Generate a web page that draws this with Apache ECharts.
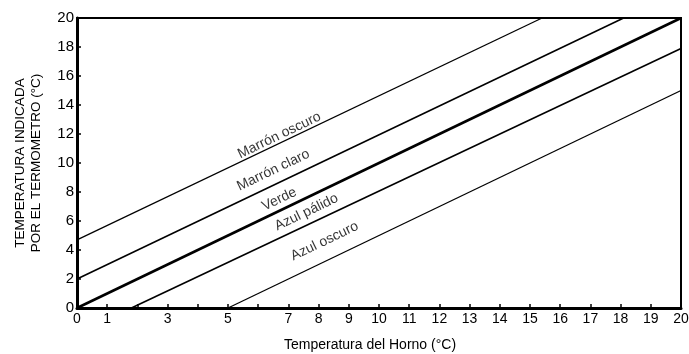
<!DOCTYPE html>
<html><head><meta charset="utf-8">
<script src="https://cdn.jsdelivr.net/npm/echarts@6/dist/echarts.min.js"></script>
<style>html,body{margin:0;padding:0;background:#fff}#c{width:689px;height:354px}</style>
</head><body><div id="c"></div>
<script>
const seriesNames = ['Marrón oscuro', 'Marrón claro', 'Verde', 'Azul pálido', 'Azul oscuro'];
const marronOscuro = [[0, 4.7], [15.4, 20]];
const marronClaro = [[0, 2.0], [18.1, 20]];
const verde = [[0, 0], [20, 20]];
const azulPalido = [[1.8, 0], [20, 17.9]];
const azulOscuro = [[5, 0], [20, 15]];
const labelPositions = [[6.7, 11.9], [6.5, 9.5], [6.7, 7.5], [7.6, 6.6], [8.2, 4.6]];
const xTickLabels = ['0', '1', '', '3', '', '5', '', '7', '8', '9', '10', '11', '12', '13', '14', '15', '16', '17', '18', '19', '20'];
const yTickLabels = ['0', '2', '4', '6', '8', '10', '12', '14', '16', '18', '20'];

const lineData = [marronOscuro, marronClaro, verde, azulPalido, azulOscuro];
const widths = [1.3, 1.6, 2.6, 1.6, 1.3];
const FONT = 'Liberation Sans';

const series = lineData.map((d, i) => ({
  type: 'line', name: seriesNames[i], data: d, symbol: 'none', silent: true,
  lineStyle: {color: '#000', width: widths[i]}, z: 3
}));
series.push({
  type: 'scatter', symbolSize: 0, silent: true,
  data: labelPositions.map((p, i) => ({value: p, name: seriesNames[i]})),
  label: {show: true, position: 'inside', formatter: p => p.name, rotate: 25.6,
    color: '#000', fontFamily: FONT, fontSize: 14}
});

const chart = echarts.init(document.getElementById('c'));
chart.setOption({
  animation: false,
  grid: {left: 77, right: 8, top: 18, bottom: 46, outerBoundsMode: 'none', containLabel: false,
    show: true, borderColor: '#000', borderWidth: 2},
  xAxis: {
    type: 'value', min: 0, max: 20, interval: 1,
    name: 'Temperatura del Horno (°C)', nameLocation: 'middle', nameGap: 30,
    nameTextStyle: {color: '#000', fontFamily: FONT, fontSize: 14, padding: [0, 18, 0, 0]},
    axisLine: {lineStyle: {color: '#000', width: 3}},
    axisTick: {inside: true, length: 4, lineStyle: {color: '#000', width: 1.5}},
    axisLabel: {color: '#000', fontFamily: FONT, fontSize: 14, margin: 4,
      formatter: v => xTickLabels[Math.round(v)] ?? ''},
    splitLine: {show: false}
  },
  yAxis: {
    type: 'value', min: 0, max: 20, interval: 2,
    name: 'TEMPERATURA INDICADA\nPOR EL TERMOMETRO (°C)', nameLocation: 'middle', nameGap: 33,
    nameTextStyle: {color: '#000', fontFamily: FONT, fontSize: 13.5, lineHeight: 16},
    axisLine: {lineStyle: {color: '#000', width: 3}},
    axisTick: {inside: true, length: 4, lineStyle: {color: '#000', width: 1.5}},
    axisLabel: {color: '#000', fontFamily: FONT, fontSize: 15, margin: 3,
      formatter: v => yTickLabels[Math.round(v / 2)] ?? ''},
    splitLine: {show: false}
  },
  series: series
});
</script></body></html>
